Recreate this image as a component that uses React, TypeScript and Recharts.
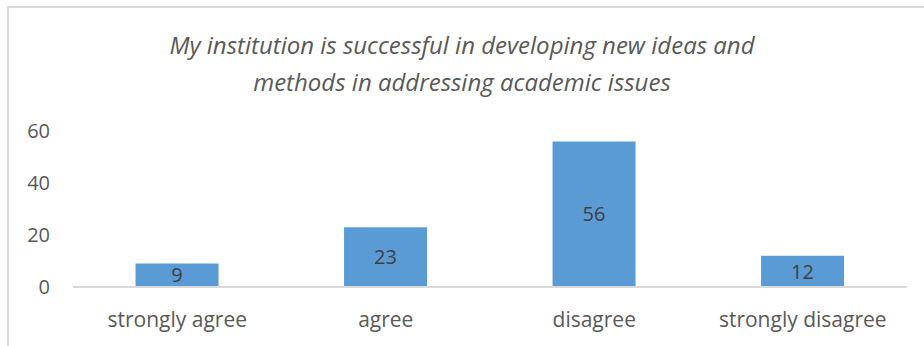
import React from 'react'
import { BarChart, Bar, XAxis, YAxis, LabelList } from 'recharts'

// Survey answers and counts
const categories = ['strongly agree', 'agree', 'disagree', 'strongly disagree']
const counts = [9, 23, 56, 12]
const yTicks = [0, 20, 40, 60]

const titleLines = [
  'My institution is successful in developing new ideas and',
  'methods in addressing academic issues',
]

const FONT = '"Open Sans", Lato, sans-serif'
const TEXT = '#595959'

const data = categories.map((name, i) => ({ name, value: counts[i] }))

const App: React.FC = () => {
  return (
    <div style={{ position: 'absolute', left: 0, top: 0, width: 924, height: 346, overflow: 'hidden', background: '#fff' }}>
      {/* chart frame, runs off the right and bottom edges */}
      <div
        style={{
          position: 'absolute',
          left: 7,
          top: 6,
          width: 940,
          height: 360,
          border: '2px solid #d9d9d9',
          boxSizing: 'border-box',
        }}
      />
      <div
        style={{
          position: 'absolute',
          left: 0,
          top: 26,
          width: 924,
          textAlign: 'center',
          fontFamily: FONT,
          fontStyle: 'italic',
          fontSize: 24,
          lineHeight: '37px',
          color: TEXT,
        }}
      >
        {titleLines.map((line) => (
          <div key={line}>{line}</div>
        ))}
      </div>
      <div style={{ position: 'absolute', left: 0, top: 0 }}>
        <BarChart
          width={924}
          height={346}
          data={data}
          margin={{ top: 131, right: 17, bottom: 29, left: 0 }}
          barCategoryGap="30%"
        >
          <XAxis
            dataKey="name"
            axisLine={{ stroke: '#d9d9d9', strokeWidth: 2 }}
            tickLine={false}
            tickMargin={19}
            tick={{ fill: TEXT, fontSize: 21, fontFamily: FONT }}
            interval={0}
          />
          <YAxis
            width={73}
            domain={[0, 60]}
            ticks={yTicks}
            axisLine={false}
            tickLine={false}
            tickMargin={17}
            tick={{ fill: TEXT, fontSize: 20, fontFamily: FONT }}
          />
          <Bar dataKey="value" fill="#5b9bd5" isAnimationActive={false}>
            <LabelList dataKey="value" position="center" fill="#404040" fontSize={20} fontFamily={FONT} />
          </Bar>
        </BarChart>
      </div>
    </div>
  )
}

export default App
